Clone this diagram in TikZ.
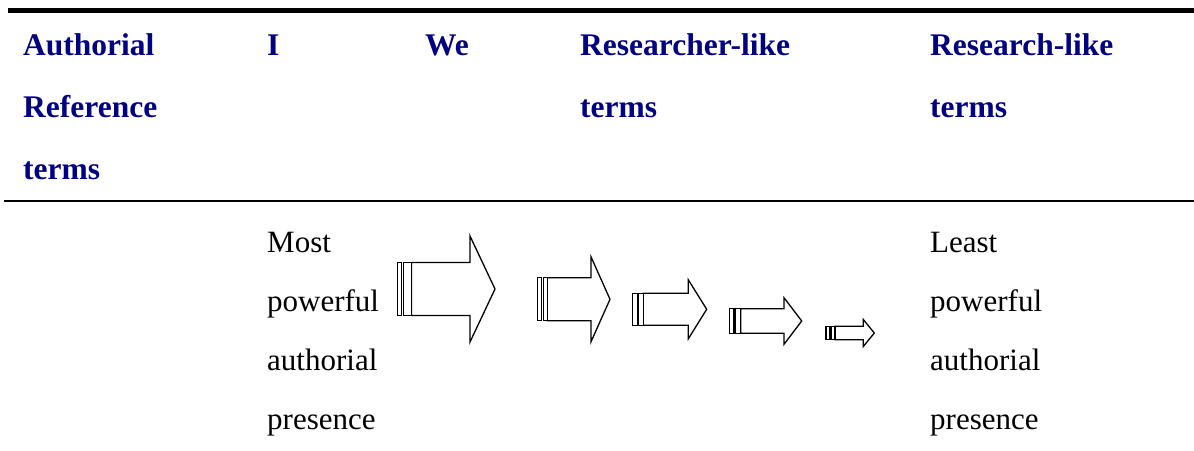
\documentclass[tikz,border=0pt]{standalone}
\usepackage{fontspec}
\setmainfont{Liberation Serif}
\definecolor{hdnavy}{RGB}{0,0,128}
\tikzset{
  hd/.style={anchor=base west, inner sep=0pt, text=hdnavy, font=\fontsize{31.5}{31.5}\selectfont\bfseries},
  bd/.style={anchor=base west, inner sep=0pt, text=black, font=\fontsize{31}{31}\selectfont},
  blk/.style={draw=black, line width=1.3pt, fill=white, line join=miter},
}
% arrow macro: #1 bar1 left, #2 bar1 right, #3 bar2 left, #4 bar2 right(body start), #5 body end, #6 tip, #7 centre y, #8 body half height, #9 head half height
\newcommand{\blockarrow}[9]{%
  \draw[blk] (#4,#7-#8) -- (#5,#7-#8) -- (#5,#7-#9) -- (#6,#7) -- (#5,#7+#9) -- (#5,#7+#8) -- (#4,#7+#8) -- cycle;
  \draw[blk] (#1,#7-#8) rectangle (#2,#7+#8);
  \draw[blk] (#3,#7-#8) rectangle (#4,#7+#8);
}
\begin{document}
\begin{tikzpicture}[x=1pt,y=-1pt]
\useasboundingbox (0,0) rectangle (1194,450);
% rules
\draw[line width=4.3pt] (8,10.5) -- (1194,10.5);
\draw[line width=2.2pt] (4,201) -- (1194,201);
% header
\node[hd] (h1a) at (23,55) {Authorial};
\node[hd] (h1b) at (23,117) {Reference};
\node[hd] (h1c) at (23,179) {terms};
\node[hd] (h2) at (267,55) {I};
\node[hd] (h3) at (425,55) {We};
\node[hd] (h4a) at (580,55) {Researcher-like};
\node[hd] (h4b) at (580,117) {terms};
\node[hd] (h5a) at (930,55) {Research-like};
\node[hd] (h5b) at (930,117) {terms};
% body text
\node[bd] (m1) at (267,252) {Most};
\node[bd] (m2) at (267,311) {powerful};
\node[bd] (m3) at (267,370) {authorial};
\node[bd] (m4) at (267,429) {presence};
\node[bd] (l1) at (930,252) {Least};
\node[bd] (l2) at (930,311) {powerful};
\node[bd] (l3) at (930,370) {authorial};
\node[bd] (l4) at (930,429) {presence};
% arrows
\blockarrow{397.3}{401.7}{403.3}{411.5}{470}{495}{289}{26.5}{53}
\blockarrow{537.3}{541.7}{543.3}{547.3}{591}{610}{299.3}{21.5}{42.5}
\blockarrow{632.3}{637.3}{638.3}{643.3}{688.3}{706.7}{309.3}{16}{29.5}
\blockarrow{729.3}{734}{735}{740.7}{784}{801.7}{321}{12.2}{23.3}
\blockarrow{826}{830}{831}{835}{863.3}{874.3}{333}{6.7}{13.5}
\end{tikzpicture}
\end{document}
